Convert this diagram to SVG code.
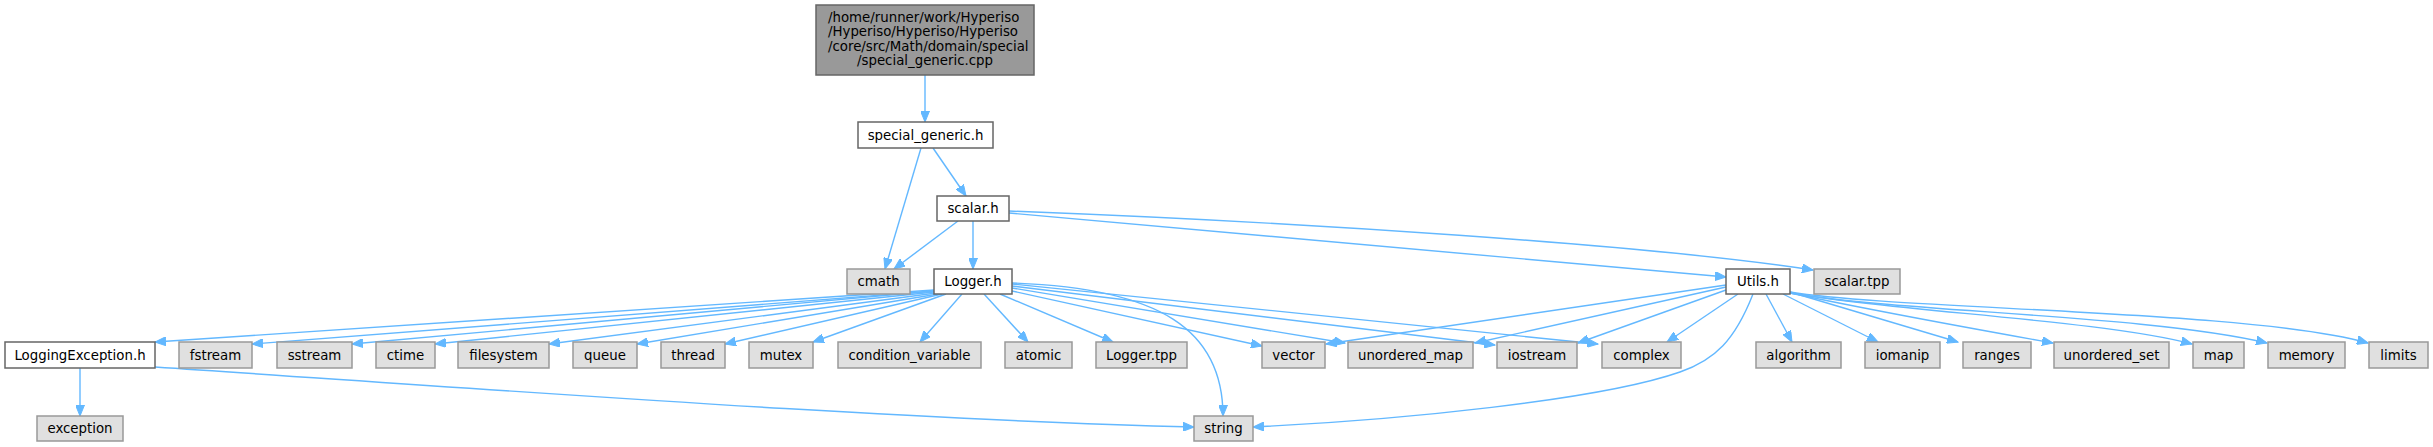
<svg xmlns="http://www.w3.org/2000/svg" width="2433" height="447" viewBox="0 0 2433 447">
<defs>
<marker id="ah" markerUnits="userSpaceOnUse" markerWidth="12" markerHeight="9" refX="11" refY="4.5" orient="auto">
<path d="M0,0 L11,4.5 L0,9 z" fill="#63b8ff" stroke="#63b8ff" stroke-width="1"/>
</marker>
</defs>
<style>
.e{fill:none;stroke:#63b8ff;stroke-width:1.4;marker-end:url(#ah)}
.w{fill:#ffffff;stroke:#666666;stroke-width:1.5}
.g{fill:#e0e0e0;stroke:#999999;stroke-width:1.5}
.r{fill:#999999;stroke:#666666;stroke-width:1.5}
text{font-family:"DejaVu Sans","Liberation Sans",sans-serif;font-size:13.33px;fill:#000000;text-anchor:middle}
text.l{text-anchor:start}
</style>
<rect width="2433" height="447" fill="#ffffff"/>
<g id="edges">
<path class="e" d="M925,75 L925,122"/>
<path class="e" d="M921,148 L885,269"/>
<path class="e" d="M933,148 L966,196"/>
<path class="e" d="M958,221 L894,269"/>
<path class="e" d="M973,221 L973,269"/>
<path class="e" d="M1009,213 L1726,277"/>
<path class="e" d="M1009,211 C1300,222 1650,245 1813,270"/>
<path class="e" d="M934,290 L155,342"/>
<path class="e" d="M934,291 L252,344"/>
<path class="e" d="M934,291 L352,344"/>
<path class="e" d="M934,292 L435,344"/>
<path class="e" d="M936,293 L549,344"/>
<path class="e" d="M938,294 L637,344"/>
<path class="e" d="M942,294 L725,344"/>
<path class="e" d="M946,294 L813,342"/>
<path class="e" d="M962,294 L920,342"/>
<path class="e" d="M984,294 L1028,342"/>
<path class="e" d="M1000,294 L1113,342"/>
<path class="e" d="M1012,291 L1262,346"/>
<path class="e" d="M1012,288 L1345,343"/>
<path class="e" d="M1012,286 L1495,345"/>
<path class="e" d="M1012,284 L1598,344"/>
<path class="e" d="M1012,283 C1160,288 1223,330 1223,416"/>
<path class="e" d="M155,367 C500,390 900,420 1194,427"/>
<path class="e" d="M80,368 L80,416"/>
<path class="e" d="M1753,294 C1735,340 1715,360 1680,372 C1600,400 1400,420 1253,427"/>
<path class="e" d="M1726,285 L1326,344"/>
<path class="e" d="M1726,287 L1475,343"/>
<path class="e" d="M1726,290 L1578,343"/>
<path class="e" d="M1738,294 L1667,342"/>
<path class="e" d="M1766,294 L1792,342"/>
<path class="e" d="M1783,294 L1878,342"/>
<path class="e" d="M1790,292 L1958,342"/>
<path class="e" d="M1790,293 C1880,312 1980,330 2053,343"/>
<path class="e" d="M1790,293 C1900,312 2100,320 2192,344"/>
<path class="e" d="M1790,293 C1900,312 2150,315 2267,343"/>
<path class="e" d="M1790,292 C1900,310 2250,310 2368,343"/>
</g>
<g id="node1"><rect class="r" x="816" y="5" width="218" height="70"/>
<text class="l" x="828" y="21.5">/home/runner/work/Hyperiso</text>
<text class="l" x="828" y="36">/Hyperiso/Hyperiso/Hyperiso</text>
<text class="l" x="828" y="50.5">/core/src/Math/domain/special</text>
<text x="925" y="65">/special_generic.cpp</text></g>
<g id="node2"><rect class="w" x="858" y="122" width="135" height="26"/><text x="925.5" y="139.5">special_generic.h</text></g>
<g id="node3"><rect class="w" x="937" y="196" width="72" height="25"/><text x="973" y="213">scalar.h</text></g>
<g id="node4"><rect class="g" x="847" y="269" width="63" height="25"/><text x="878.5" y="286">cmath</text></g>
<g id="node5"><rect class="w" x="934" y="269" width="78" height="25"/><text x="973" y="286">Logger.h</text></g>
<g id="node6"><rect class="w" x="1726" y="269" width="64" height="25"/><text x="1758" y="286">Utils.h</text></g>
<g id="node7"><rect class="g" x="1814" y="269" width="86" height="25"/><text x="1857" y="286">scalar.tpp</text></g>
<g id="node8"><rect class="w" x="5" y="342" width="150" height="26"/><text x="80" y="359.5">LoggingException.h</text></g>
<g id="node9"><rect class="g" x="179" y="342" width="73" height="26"/><text x="215.5" y="359.5">fstream</text></g>
<g id="node10"><rect class="g" x="277" y="342" width="75" height="26"/><text x="314.5" y="359.5">sstream</text></g>
<g id="node11"><rect class="g" x="376" y="342" width="59" height="26"/><text x="405.5" y="359.5">ctime</text></g>
<g id="node12"><rect class="g" x="458" y="342" width="91" height="26"/><text x="503.5" y="359.5">filesystem</text></g>
<g id="node13"><rect class="g" x="573" y="342" width="64" height="26"/><text x="605" y="359.5">queue</text></g>
<g id="node14"><rect class="g" x="661" y="342" width="64" height="26"/><text x="693" y="359.5">thread</text></g>
<g id="node15"><rect class="g" x="749" y="342" width="64" height="26"/><text x="781" y="359.5">mutex</text></g>
<g id="node16"><rect class="g" x="838" y="342" width="143" height="26"/><text x="909.5" y="359.5">condition_variable</text></g>
<g id="node17"><rect class="g" x="1005" y="342" width="67" height="26"/><text x="1038.5" y="359.5">atomic</text></g>
<g id="node18"><rect class="g" x="1096" y="342" width="91" height="26"/><text x="1141.5" y="359.5">Logger.tpp</text></g>
<g id="node19"><rect class="g" x="1262" y="342" width="63" height="26"/><text x="1293.5" y="359.5">vector</text></g>
<g id="node20"><rect class="g" x="1348" y="342" width="125" height="26"/><text x="1410.5" y="359.5">unordered_map</text></g>
<g id="node21"><rect class="g" x="1497" y="342" width="80" height="26"/><text x="1537" y="359.5">iostream</text></g>
<g id="node22"><rect class="g" x="1602" y="342" width="79" height="26"/><text x="1641.5" y="359.5">complex</text></g>
<g id="node23"><rect class="g" x="1756" y="342" width="85" height="26"/><text x="1798.5" y="359.5">algorithm</text></g>
<g id="node24"><rect class="g" x="1865" y="342" width="75" height="26"/><text x="1902.5" y="359.5">iomanip</text></g>
<g id="node25"><rect class="g" x="1963" y="342" width="68" height="26"/><text x="1997" y="359.5">ranges</text></g>
<g id="node26"><rect class="g" x="2054" y="342" width="115" height="26"/><text x="2111.5" y="359.5">unordered_set</text></g>
<g id="node27"><rect class="g" x="2193" y="342" width="51" height="26"/><text x="2218.5" y="359.5">map</text></g>
<g id="node28"><rect class="g" x="2268" y="342" width="77" height="26"/><text x="2306.5" y="359.5">memory</text></g>
<g id="node29"><rect class="g" x="2369" y="342" width="59" height="26"/><text x="2398.5" y="359.5">limits</text></g>
<g id="node30"><rect class="g" x="37" y="416" width="86" height="25"/><text x="80" y="433">exception</text></g>
<g id="node31"><rect class="g" x="1194" y="416" width="59" height="25"/><text x="1223.5" y="433">string</text></g>
</svg>
